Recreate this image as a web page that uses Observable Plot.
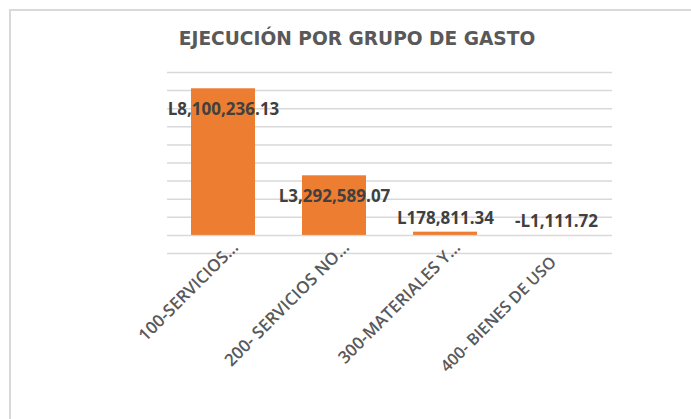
<!DOCTYPE html>
<html>
<head>
<meta charset="utf-8">
<script src="https://cdn.jsdelivr.net/npm/d3@7"></script>
<script src="https://cdn.jsdelivr.net/npm/@observablehq/plot@0.6"></script>
<style>
  html, body { margin: 0; padding: 0; background: #fff; }
  #wrap { position: relative; width: 691px; height: 419px; overflow: hidden; }
  #frame { position: absolute; left: 9px; top: 9px; width: 800px; height: 500px;
           border-left: 2px solid #d9d9d9; border-top: 2px solid #d9d9d9; }
  #title { position: absolute; left: 0; top: 28px; width: 714px; text-align: center;
           font-family: "DejaVu Sans", sans-serif; font-weight: bold; font-size: 18.6px;
           color: #595959; white-space: nowrap; }
  #chart { position: absolute; left: 0; top: 0; }
</style>
</head>
<body>
<div id="wrap">
  <div id="frame"></div>
  <div id="chart"></div>
  <div id="title">EJECUCIÓN POR GRUPO DE GASTO</div>
</div>
<script>
const categories = ["100-SERVICIOS…", "200- SERVICIOS NO…", "300-MATERIALES Y…", "400- BIENES DE USO"];
const values = [8100236.13, 3292589.07, 178811.34, -1111.72];
const gridTicks = [-1e6, 0, 1e6, 2e6, 3e6, 4e6, 5e6, 6e6, 7e6, 8e6, 9e6];

const data = categories.map((c, i) => ({cat: c, val: values[i]}));
const fmt = v => (v < 0 ? "-L" : "L") + d3.format(",.2f")(Math.abs(v));
const tickStyle = {tickRotate: -45, tickSize: 0, tickPadding: 0, label: null,
  fontWeight: 600, fill: "#595959", fontFamily: "Open Sans"};

const chart = Plot.plot({
  width: 691,
  height: 419,
  marginLeft: 167,
  marginRight: 79,
  marginTop: 72,
  marginBottom: 166,
  style: {background: "transparent"},
  x: {domain: categories, paddingInner: 0.425, paddingOuter: 0.2125},
  y: {domain: [-1e6, 9e6], axis: null},
  marks: [
    Plot.gridY(gridTicks, {stroke: "#d9d9d9", strokeOpacity: 1, strokeWidth: 1.5}),
    Plot.barY(data, {x: "cat", y: "val", fill: "#ED7D31"}),
    Plot.axisX(categories.slice(0, 3), {...tickStyle, fontSize: 17, dx: 12, dy: -9}),
    Plot.axisX(categories.slice(3), {...tickStyle, fontSize: 16.2, dx: -3, dy: 6}),
    Plot.text(data.filter(d => d.val > 1e6), {x: "cat", y: "val", text: d => fmt(d.val), dy: 21,
      fontSize: 17, fontWeight: "bold", fill: "#404040", fontFamily: "Open Sans"}),
    Plot.text(data.filter(d => d.val <= 1e6), {x: "cat", y: "val", text: d => fmt(d.val), dy: -14,
      fontSize: 17, fontWeight: "bold", fill: "#404040", fontFamily: "Open Sans"})
  ]
});
document.getElementById("chart").appendChild(chart);
</script>
</body>
</html>
